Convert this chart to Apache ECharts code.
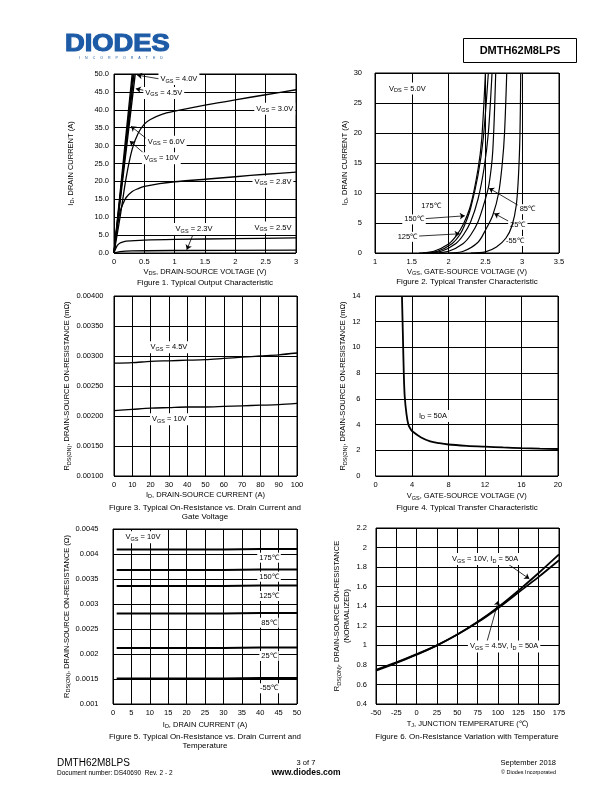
<!DOCTYPE html>
<html>
<head>
<meta charset="utf-8">
<script src="https://cdn.jsdelivr.net/npm/echarts@6/dist/echarts.min.js"></script>
<style>
  html, body { margin: 0; padding: 0; background: #fff; }
  #page { width: 612px; height: 792px; }
</style>
</head>
<body>
<div id="page"></div>
<script>
// ---- Figure 1: output characteristic, [VDS, ID]
const f1Vgs10 = [[0, 0], [0.15, 25], [0.30, 50]];
const f1Vgs60 = [[0, 0], [0.16, 25], [0.315, 50]];
const f1Vgs45 = [[0, 0], [0.165, 25], [0.33, 50]];
const f1Vgs40 = [[0, 0], [0.175, 25], [0.35, 50]];
const f1Vgs30 = [[0, 0], [0.1, 10], [0.2, 21], [0.3, 29], [0.4, 33.5], [0.5, 36], [0.6, 37.3], [0.8, 38.8], [1, 39.6], [1.5, 41.3], [2, 42.8], [2.5, 44.2], [3, 45.6]];
const f1Vgs28 = [[0, 0], [0.05, 7], [0.1, 11.5], [0.15, 13.8], [0.2, 15.5], [0.3, 17.2], [0.4, 18], [0.5, 18.6], [0.75, 19.4], [1, 19.9], [1.5, 20.6], [2, 21.3], [2.5, 22], [3, 22.6]];
const f1Vgs25 = [[0, 0], [0.05, 2], [0.1, 2.8], [0.15, 3.1], [0.2, 3.3], [0.5, 3.6], [1, 3.8], [2, 4.0], [3, 4.2]];
const f1Vgs23 = [[0, 0], [0.1, 0.4], [0.3, 0.6], [1, 0.7], [3, 0.8]];

// ---- Figure 2: transfer characteristic, [VGS, ID]
const f2T175 = [[1.6, 0], [1.8, 0.3], [2.0, 1.5], [2.1, 2.8], [2.2, 4.8], [2.3, 8], [2.4, 14], [2.45, 19], [2.5, 30]];
const f2T150 = [[1.65, 0], [1.85, 0.3], [2.05, 1.6], [2.15, 3], [2.22, 4.7], [2.3, 7.5], [2.4, 13], [2.47, 19], [2.54, 30]];
const f2T125 = [[1.7, 0], [1.9, 0.3], [2.1, 1.6], [2.2, 3], [2.3, 5.2], [2.4, 9], [2.48, 14], [2.54, 20], [2.59, 30]];
const f2T85 = [[1.8, 0], [2.0, 0.3], [2.2, 1.6], [2.3, 3], [2.4, 5.2], [2.5, 9], [2.55, 11.5], [2.6, 17], [2.64, 30]];
const f2T25 = [[2.0, 0], [2.2, 0.3], [2.4, 1.8], [2.5, 3.8], [2.6, 6.3], [2.68, 10], [2.73, 15], [2.76, 20], [2.79, 30]];
const f2Tm55 = [[2.3, 0], [2.5, 0.2], [2.65, 1], [2.78, 2.5], [2.86, 4.5], [2.92, 8], [2.95, 13], [2.97, 20], [2.98, 30]];

// ---- Figure 3: RDS(ON) vs ID
const f3Current = [0, 10, 20, 30, 40, 50, 60, 70, 80, 90, 100];
const f3Vgs45 = [0.00288, 0.00289, 0.00291, 0.00292, 0.00293, 0.00294, 0.00296, 0.00298, 0.00300, 0.00302, 0.00305];
const f3Vgs10 = [0.00209, 0.00211, 0.00213, 0.00214, 0.00215, 0.00215, 0.00216, 0.00217, 0.00218, 0.00219, 0.00221];

// ---- Figure 4: RDS(ON) vs VGS, [VGS, mOhm]
const f4Id50 = [[2.9, 14], [3.0, 11], [3.1, 8], [3.2, 6.2], [3.4, 4.8], [3.6, 4.0], [3.8, 3.7], [4, 3.5], [5, 3.0], [6, 2.7], [7, 2.55], [8, 2.45], [10, 2.35], [12, 2.28], [14, 2.22], [16, 2.17], [18, 2.13], [20, 2.1]];

// ---- Figure 5: RDS(ON) vs ID and temperature
const f5Current = [1, 10, 20, 30, 40, 50];
const f5T175 = [0.00409, 0.00409, 0.00409, 0.00409, 0.00410, 0.00410];
const f5T150 = [0.00368, 0.00368, 0.00368, 0.00368, 0.00369, 0.00369];
const f5T125 = [0.00336, 0.00336, 0.00336, 0.00336, 0.00337, 0.00337];
const f5T85 = [0.00281, 0.00281, 0.00281, 0.00281, 0.00282, 0.00282];
const f5T25 = [0.00212, 0.00212, 0.00212, 0.00212, 0.00213, 0.00213];
const f5Tm55 = [0.00151, 0.00151, 0.00151, 0.00151, 0.00152, 0.00152];

// ---- Figure 6: normalized RDS(ON) vs TJ
const f6Temp = [-50, -25, 0, 25, 50, 75, 100, 125, 150, 175];
const f6Vgs10 = [0.74, 0.82, 0.905, 1.0, 1.11, 1.24, 1.39, 1.56, 1.74, 1.93];
const f6Vgs45 = [0.75, 0.825, 0.91, 1.0, 1.11, 1.235, 1.38, 1.54, 1.70, 1.87];

const FONT = '"Liberation Sans", Arial, sans-serif';
const FS = 7.5;
const rich = {
    n: { fontFamily: FONT, fontSize: FS, color: '#000' },
    s: { fontFamily: FONT, fontSize: 5.5, color: '#000', padding: [4, 0, 0, 0] }
};

// 'V','GS',' = 4.0V' -> rich string, odd parts are subscripts
function lab() {
    let out = '';
    for (let i = 0; i < arguments.length; i++) {
        if (arguments[i] === '') continue;
        out += '{' + (i % 2 ? 's' : 'n') + '|' + arguments[i] + '}';
    }
    return out;
}
const zip = (xs, ys) => xs.map((x, i) => [x, ys[i]]);
const trim = d => v => String(+v.toFixed(d));

var myChart = echarts.init(document.getElementById('page'), null, { renderer: 'canvas' });

const grids = [
    { left: 114, top: 74, width: 182, height: 179 },
    { left: 375, top: 73, width: 184, height: 180 },
    { left: 114, top: 296, width: 183, height: 180 },
    { left: 375.5, top: 296, width: 182.5, height: 180 },
    { left: 113, top: 529, width: 184, height: 175 },
    { left: 376, top: 528, width: 183, height: 176 }
].map(g => Object.assign({ show: true, borderColor: '#000', borderWidth: 1, backgroundColor: '#fff' }, g));

function axis(i, min, max, interval, name, nameGap, margin, fmt, vertical) {
    return {
        gridIndex: i, type: 'value', min: min, max: max, interval: interval,
        name: name, nameLocation: 'middle', nameGap: nameGap, nameRotate: vertical ? 90 : 0,
        nameTextStyle: { rich: rich, fontFamily: FONT, fontSize: FS, color: '#000', lineHeight: 10 },
        axisLine: { show: false }, axisTick: { show: false },
        axisLabel: { margin: margin, fontSize: FS, color: '#000', fontFamily: FONT, formatter: fmt, showMinLabel: true, showMaxLabel: true },
        splitLine: { show: true, lineStyle: { color: '#000', width: 1 } }
    };
}

const xAxes = [
    axis(0, 0, 3, 0.5, lab('V', 'DS', ', DRAIN-SOURCE VOLTAGE (V)'), 13, 5, trim(1)),
    axis(1, 1, 3.5, 0.5, lab('V', 'GS', ', GATE-SOURCE VOLTAGE (V)'), 12, 5, trim(1)),
    axis(2, 0, 100, 10, lab('I', 'D', ', DRAIN-SOURCE CURRENT (A)'), 12.5, 5, trim(0)),
    axis(3, 0, 20, 4, lab('V', 'GS', ', GATE-SOURCE VOLTAGE (V)'), 15, 5, trim(0)),
    axis(4, 0, 50, 5, lab('I', 'D', ', DRAIN CURRENT (A)'), 15.5, 5, trim(0)),
    axis(5, -50, 175, 25, lab('T', 'J', ', JUNCTION TEMPERATURE (\u2103)'), 14.5, 5, trim(0))
];
const yAxes = [
    axis(0, 0, 50, 5, lab('I', 'D', ', DRAIN CURRENT (A)'), 38.5, 5, v => v.toFixed(1), true),
    axis(1, 0, 30, 5, lab('I', 'D', ', DRAIN CURRENT (A)'), 18.5, 13, trim(0), true),
    axis(2, 0.001, 0.004, 0.0005, lab('R', 'DS(ON)', ', DRAIN-SOURCE ON-RESISTANCE (m\u03A9)'), 42, 10.5, v => v.toFixed(5), true),
    axis(3, 0, 14, 2, lab('R', 'DS(ON)', ', DRAIN-SOURCE ON-RESISTANCE (m\u03A9)'), 23, 15, trim(0), true),
    axis(4, 0.001, 0.0045, 0.0005, lab('R', 'DS(ON)', ', DRAIN-SOURCE ON-RESISTANCE (\u03A9)'), 40.5, 14.5, trim(4), true),
    axis(5, 0.4, 2.2, 0.2, lab('R', 'DS(ON)', ', DRAIN-SOURCE ON-RESISTANCE') + '\n' + lab('(NORMALIZED)'), 24, 9, trim(1), true)
];

function curve(i, data, width, smooth) {
    return {
        type: 'line', data: data, xAxisIndex: i, yAxisIndex: i,
        symbol: 'none', smooth: smooth === undefined ? 0.3 : smooth,
        lineStyle: { color: '#000', width: width }, z: 5, silent: true
    };
}

// labels: [x, y, text]; arrows: [x1, y1, x2, y2] (head at the second point)
function notes(i, labels, arrows) {
    return {
        type: 'line', data: [], xAxisIndex: i, yAxisIndex: i, z: 10, silent: true,
        markPoint: {
            symbol: 'rect', symbolSize: 1, itemStyle: { color: 'rgba(0,0,0,0)' }, silent: true,
            label: { show: true, position: 'inside', backgroundColor: '#fff', padding: [1, 2], rich: rich, color: '#000', fontSize: FS, fontFamily: FONT },
            data: labels.map(p => ({ coord: [p[0], p[1]], label: { formatter: p[2] } }))
        },
        markLine: {
            silent: true, symbol: ['none', 'arrow'], symbolSize: 5,
            lineStyle: { color: '#000', width: 0.8, type: 'solid' }, label: { show: false },
            data: arrows.map(a => [{ coord: [a[0], a[1]] }, { coord: [a[2], a[3]] }])
        }
    };
}

const C = '\u2103';
const series = [
    curve(0, f1Vgs10, 1.4, 0), curve(0, f1Vgs60, 1.4, 0), curve(0, f1Vgs45, 1.4, 0), curve(0, f1Vgs40, 1.4, 0),
    curve(0, f1Vgs30, 1.3), curve(0, f1Vgs28, 1.3), curve(0, f1Vgs25, 1.3), curve(0, f1Vgs23, 1.3),
    notes(0, [
        [1.07, 48.6, lab('V', 'GS', ' = 4.0V')],
        [0.82, 44.7, lab('V', 'GS', ' = 4.5V')],
        [2.65, 40.3, lab('V', 'GS', ' = 3.0V')],
        [0.86, 31.1, lab('V', 'GS', ' = 6.0V')],
        [0.78, 26.5, lab('V', 'GS', ' = 10V')],
        [2.62, 19.9, lab('V', 'GS', ' = 2.8V')],
        [1.32, 6.7, lab('V', 'GS', ' = 2.3V')],
        [2.62, 7.1, lab('V', 'GS', ' = 2.5V')]
    ], [
        [0.76, 48.6, 0.38, 49.7],
        [0.56, 45.2, 0.36, 45.9],
        [0.56, 31.6, 0.28, 35.4],
        [0.55, 27.0, 0.26, 31.3],
        [1.32, 5.9, 1.2, 0.9]
    ]),

    curve(1, f2T175, 1.2), curve(1, f2T150, 1.2), curve(1, f2T125, 1.2),
    curve(1, f2T85, 1.2), curve(1, f2T25, 1.2), curve(1, f2Tm55, 1.2),
    notes(1, [
        [1.44, 27.4, lab('V', 'DS', ' = 5.0V')],
        [1.76, 7.9, lab('175' + C)],
        [1.53, 5.6, lab('150' + C)],
        [1.44, 2.7, lab('125' + C)],
        [3.07, 7.3, lab('85' + C)],
        [2.94, 4.7, lab('25' + C)],
        [2.9, 2.0, lab('-55' + C)]
    ], [
        [1.65, 5.7, 2.22, 6.2],
        [1.56, 2.8, 2.15, 3.2],
        [2.98, 7.7, 2.55, 10.8],
        [2.86, 5.0, 2.62, 6.6]
    ]),

    curve(2, zip(f3Current, f3Vgs45), 1.3), curve(2, zip(f3Current, f3Vgs10), 1.3),
    notes(2, [
        [30, 0.003145, lab('V', 'GS', ' = 4.5V')],
        [30.3, 0.001945, lab('V', 'GS', ' = 10V')]
    ], []),

    curve(3, f4Id50, 1.8),
    notes(3, [[6.3, 4.67, lab('I', 'D', ' = 50A')]], []),

    curve(4, zip(f5Current, f5T175), 2, 0), curve(4, zip(f5Current, f5T150), 2, 0),
    curve(4, zip(f5Current, f5T125), 2, 0), curve(4, zip(f5Current, f5T85), 2, 0),
    curve(4, zip(f5Current, f5T25), 2, 0), curve(4, zip(f5Current, f5Tm55), 2, 0),
    notes(4, [
        [8.15, 0.004334, lab('V', 'GS', ' = 10V')],
        [42.4, 0.003926, lab('175' + C)],
        [42.4, 0.003546, lab('150' + C)],
        [42.4, 0.00316, lab('125' + C)],
        [42.4, 0.002626, lab('85' + C)],
        [42.4, 0.00196, lab('25' + C)],
        [42.4, 0.001314, lab('-55' + C)]
    ], []),

    curve(5, zip(f6Temp, f6Vgs10), 1.8), curve(5, zip(f6Temp, f6Vgs45), 1.8),
    notes(5, [
        [84.2, 1.883, lab('V', 'GS', ' = 10V, I', 'D', ' = 50A')],
        [107.5, 0.989, lab('V', 'GS', ' = 4.5V, I', 'D', ' = 50A')]
    ], [
        [110.8, 1.84, 138.5, 1.68],
        [86.2, 1.03, 100.5, 1.456]
    ])
];

function txt(x, y, text, size, extra) {
    return {
        type: 'text', x: x, y: y, z: 20, silent: true,
        style: Object.assign({
            text: text, fill: '#000', font: size + 'px ' + FONT,
            textAlign: 'center', textVerticalAlign: 'middle', align: 'center', verticalAlign: 'middle'
        }, extra || {})
    };
}

const graphics = [
    // header
    {
        type: 'text', x: 65, y: 44.5, scaleX: 1.3, scaleY: 1.1, z: 20, silent: true,
        style: { text: 'DIODES', fill: '#1d5ba6', font: 'bold 21px ' + FONT, textAlign: 'left', align: 'left', textVerticalAlign: 'middle', verticalAlign: 'middle', stroke: '#1d5ba6', lineWidth: 1 }
    },
    txt(121, 57.5, 'I     N     C     O     R     P     O     R     A     T     E     D', 3.6, { fill: '#1d5ba6' }),
    {
        type: 'rect', z: 20, silent: true, shape: { x: 463.5, y: 38.5, width: 113, height: 24 },
        style: { fill: '#fff', stroke: '#000', lineWidth: 1 }
    },
    txt(520, 50.5, 'DMTH62M8LPS', 11, { font: 'bold 11px ' + FONT }),

    // captions
    txt(205, 283, 'Figure 1. Typical Output Characteristic', 8),
    txt(467, 282, 'Figure 2. Typical Transfer Characteristic', 8),
    txt(205, 508, 'Figure 3. Typical On-Resistance vs. Drain Current and', 8),
    txt(205, 517, 'Gate Voltage', 8),
    txt(467, 508, 'Figure 4. Typical Transfer Characteristic', 8),
    txt(205, 737, 'Figure 5. Typical On-Resistance vs. Drain Current and', 8),
    txt(205, 746, 'Temperature', 8),
    txt(467, 737, 'Figure 6. On-Resistance Variation with Temperature', 8),

    // footer
    txt(57, 763, 'DMTH62M8LPS', 10, { textAlign: 'left', align: 'left' }),
    txt(57, 773, 'Document number: DS40690  Rev. 2 - 2', 6.5, { textAlign: 'left', align: 'left' }),
    txt(306, 763, '3 of 7', 7.5),
    txt(306, 772.5, 'www.diodes.com', 8.5, { font: 'bold 8.5px ' + FONT }),
    txt(556, 763, 'September 2018', 7.5, { textAlign: 'right', align: 'right' }),
    txt(556, 772, '\u00A9 Diodes Incorporated', 5.5, { textAlign: 'right', align: 'right' })
];

myChart.setOption({
    backgroundColor: '#fff',
    animation: false,
    grid: grids,
    xAxis: xAxes,
    yAxis: yAxes,
    series: series,
    graphic: graphics
});
</script>
</body>
</html>
